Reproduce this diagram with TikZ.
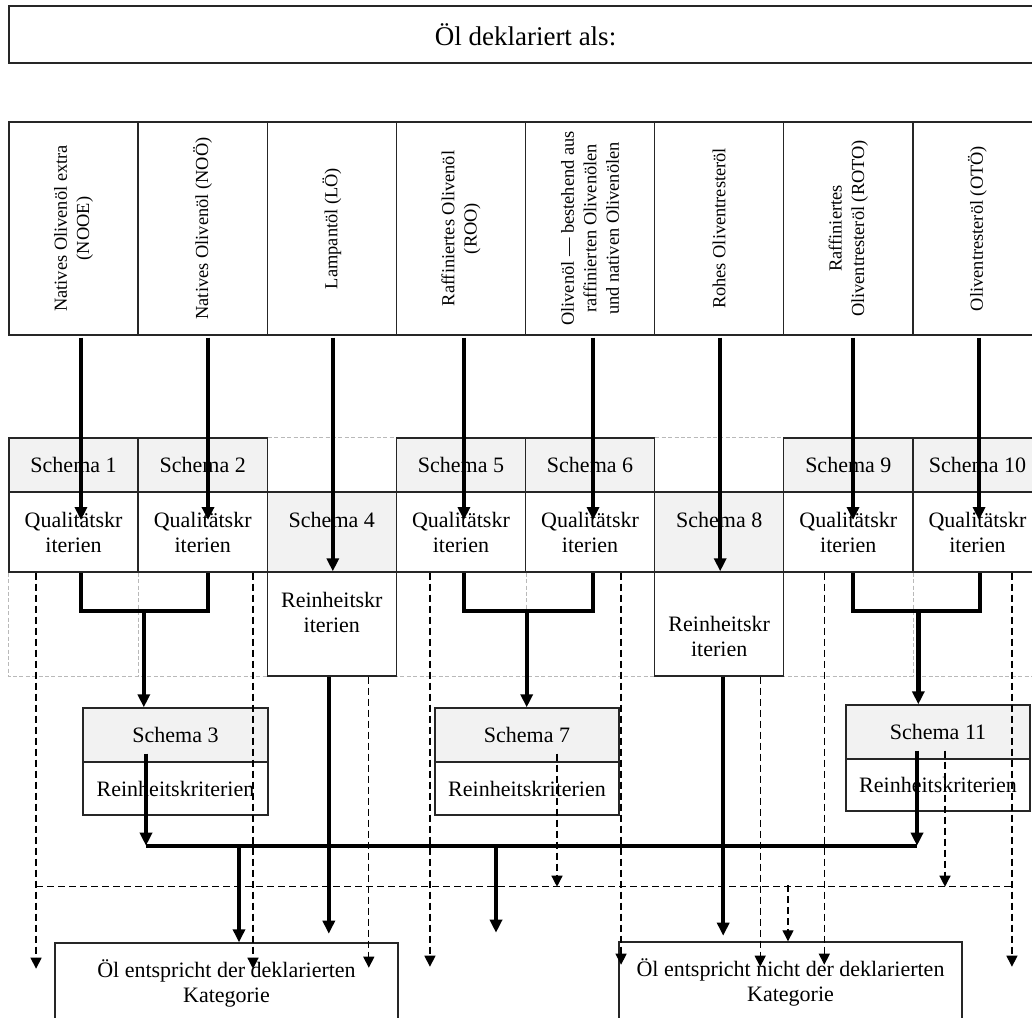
\documentclass[tikz,border=0pt]{standalone}
\usepackage{fontspec}
\setmainfont{Liberation Serif}
\usetikzlibrary{arrows.meta,calc}
\newdimen\pxu \pxu=0.5pt
\definecolor{cellgray}{HTML}{F2F2F2}
\begin{document}
\begin{tikzpicture}[x=0.5pt,y=-0.5pt,
  font=\fontsize{11}{12.5}\selectfont,
  box/.style={draw=black!85,line width=0.7pt,fill=white,inner sep=0pt,align=center},
  gbox/.style={box,fill=cellgray},
  wd/.style={minimum width=#1\pxu},
  ht/.style={minimum height=#1\pxu},
  vtext/.style={rotate=90,align=center,inner sep=0pt,font=\fontsize{9.2}{11.2}\selectfont},
  lbl/.style={align=center,inner sep=0pt},
  thk/.style={line width=2.2pt},
  thka/.style={thk,-{Triangle[width=6pt,length=6.5pt]}},
  dsh/.style={line width=0.65pt,dash pattern=on 3.5pt off 2pt},
  dsha/.style={dsh,-{Triangle[width=5.5pt,length=5.5pt]}},
  ghost/.style={draw=gray!55,line width=0.5pt,dash pattern=on 2pt off 1.2pt}]

\useasboundingbox[fill=white] (0,0) rectangle (1032,1017);

% title bar
\node[box,wd=1033,ht=57,font=\fontsize{13.5}{15}\selectfont] (hdr) at (525.5,34.5) {Öl deklariert als:};

% declared categories
\node[box,wd=129.125,ht=213] (c1) at (73.56,228.5) {};
\node[box,wd=129.125,ht=213] (c2) at (202.69,228.5) {};
\node[box,wd=129.125,ht=213] (c3) at (331.81,228.5) {};
\node[box,wd=129.125,ht=213] (c4) at (460.94,228.5) {};
\node[box,wd=129.125,ht=213] (c5) at (590.06,228.5) {};
\node[box,wd=129.125,ht=213] (c6) at (719.19,228.5) {};
\node[box,wd=129.125,ht=213] (c7) at (848.31,228.5) {};
\node[box,wd=129.125,ht=213] (c8) at (977.44,228.5) {};
\node[vtext] (t1) at (c1) {Natives Olivenöl extra\\(NOOE)};
\node[vtext] (t2) at (c2) {Natives Olivenöl (NOÖ)};
\node[vtext] (t3) at (c3) {Lampantöl (LÖ)};
\node[vtext] (t4) at (c4) {Raffiniertes Olivenöl\\(ROO)};
\node[vtext] (t5) at (c5) {Olivenöl — bestehend aus\\raffinierten Olivenölen\\und nativen Olivenölen};
\node[vtext] (t6) at (c6) {Rohes Oliventresteröl};
\node[vtext] (t7) at (c7) {Raffiniertes\\Oliventresteröl (ROTO)};
\node[vtext] (t8) at (c8) {Oliventresteröl (OTÖ)};

% scheme grid: header row
\node[gbox,wd=129.125,ht=54] (h1) at (73.56,465) {Schema 1};
\node[gbox,wd=129.125,ht=54] (h2) at (202.69,465) {Schema 2};
\node[gbox,wd=129.125,ht=54] (h5) at (460.94,465) {Schema 5};
\node[gbox,wd=129.125,ht=54] (h6) at (590.06,465) {Schema 6};
\node[gbox,wd=129.125,ht=54] (h9) at (848.31,465) {Schema 9};
\node[gbox,wd=129.125,ht=54] (h10) at (977.44,465) {Schema 10};

% scheme grid: quality row
\node[box,wd=129.125,ht=80] (q1) at (73.56,532) {Qualitätskr\\iterien};
\node[box,wd=129.125,ht=80] (q2) at (202.69,532) {Qualitätskr\\iterien};
\node[gbox,wd=129.125,ht=80] (s4) at (331.81,532) {Schema 4\\\phantom{iterien}};
\node[box,wd=129.125,ht=80] (q5) at (460.94,532) {Qualitätskr\\iterien};
\node[box,wd=129.125,ht=80] (q6) at (590.06,532) {Qualitätskr\\iterien};
\node[gbox,wd=129.125,ht=80] (s8) at (719.19,532) {Schema 8\\\phantom{iterien}};
\node[box,wd=129.125,ht=80] (q9) at (848.31,532) {Qualitätskr\\iterien};
\node[box,wd=129.125,ht=80] (q10) at (977.44,532) {Qualitätskr\\iterien};

% empty grid cells
\draw[ghost] (h2.north east) -- (h5.north west);
\draw[ghost] (h6.north east) -- (h9.north west);
\draw[ghost] (q1.south west) -- ++(0,104) -- ($(q2.south east)+(0,104)$);
\draw[ghost] (q1.south east) -- ++(0,104);
\draw[ghost] (q5.south west) -- ++(0,104) -- ($(q6.south east)+(0,104)$);
\draw[ghost] (q5.south east) -- ++(0,104);
\draw[ghost] (q9.south west) -- ++(0,104) -- ($(q10.south east)+(0,104)$);
\draw[ghost] (q9.south east) -- ++(0,104);
\draw[ghost] (q10.south east) -- ++(0,104);

% scheme grid: purity row
\node[box,wd=129.125,ht=104] (r4) at (331.81,624) {};
\node[lbl] (r4t) at ($(r4)+(0,-12)$) {Reinheitskr\\iterien};
\node[box,wd=129.125,ht=104] (r8) at (719.19,624) {};
\node[lbl] (r8t) at ($(r8)+(0,12)$) {Reinheitskr\\iterien};

% follow-up schemes
\node[gbox,wd=185,ht=54] (s3h) at (175.5,735) {Schema 3};
\node[box,wd=185,ht=53] (s3r) at (175.5,788.5) {Reinheitskriterien};
\node[gbox,wd=184,ht=54] (s7h) at (527,735) {Schema 7};
\node[box,wd=184,ht=53] (s7r) at (527,788.5) {Reinheitskriterien};
\node[gbox,wd=184,ht=54] (s11h) at (938,732) {Schema 11};
\node[box,wd=184,ht=52] (s11r) at (938,785) {Reinheitskriterien};

% results
\node[box,wd=343,ht=80] (ok) at (226.5,983) {Öl entspricht der deklarierten\\Kategorie};
\node[box,wd=343,ht=80] (nok) at (790.5,982) {Öl entspricht nicht der deklarierten\\Kategorie};

% category to scheme
\draw[thka] ($(c1.south)+(7.4,2)$) -- ($(q1.center)+(7.4,-12)$);
\draw[thka] ($(c2.south)+(5.3,2)$) -- ($(q2.center)+(5.3,-12)$);
\draw[thka] ($(c3.south)+(1,2)$) -- ($(r4.north)+(1,0)$);
\draw[thka] ($(c4.south)+(3,2)$) -- ($(q5.center)+(3,-12)$);
\draw[thka] ($(c5.south)+(3,2)$) -- ($(q6.center)+(3,-12)$);
\draw[thka] ($(c6.south)+(1,2)$) -- ($(r8.north)+(1,0)$);
\draw[thka] ($(c7.south)+(4.7,2)$) -- ($(q9.center)+(4.7,-12)$);
\draw[thka] ($(c8.south)+(1.6,2)$) -- ($(q10.center)+(1.6,-12)$);

% quality pairs joined and led to purity schemes
\draw[thk] ($(q1.south)+(7.4,0)$) -- ++(0,38) -| ($(q2.south)+(5.3,0)$);
\draw[thk] ($(q5.south)+(3,0)$) -- ++(0,38) -| ($(q6.south)+(3,0)$);
\draw[thk] ($(q9.south)+(4.7,0)$) -- ++(0,38) -| ($(q10.south)+(2.6,0)$);
\coordinate (m12) at ($(q1.south east)+(5,38)$);
\coordinate (m56) at ($(q5.south east)+(0.5,38)$);
\coordinate (m910) at ($(q9.south east)+(4.75,38)$);
\draw[thka] (m12) -- (m12 |- s3h.north);
\draw[thka] (m56) -- (m56 |- s7h.north);
\draw[thka] (m910) -- (m910 |- s11h.north);

% collecting line to the positive result
\coordinate (busL) at ($(s3r.south)+(-29.5,30)$);
\coordinate (x11) at ($(s11h.south)+(-21,-9)$);
\coordinate (busR) at (x11 |- busL);
\draw[thka] ($(s3h.south)+(-29.5,-9)$) -- (busL);
\draw[thka] (x11) -- (busR);
\draw[thk] (busL) -- (busR);
\coordinate (b1) at ($(busL)+(93,2)$);
\coordinate (b2) at ($(busL)+(350,2)$);
\coordinate (b2end) at ($(b2)+(0,85)$);
\draw[thka] (b1) -- (b1 |- ok.north);
\draw[thka] (b2) -- (b2end);

% purity results of schemes 4 and 8
\draw[thka] ($(r4.south)+(-3,0)$) -- ++(0,257);
\draw[thka] ($(r8.south)+(4,0)$) -- ++(0,259);

% failure paths
\draw[dsha] ($(q1.south)+(-37.5,0)$) -- ++(0,396);
\draw[dsha] ($(q2.south)+(50.3,0)$) -- ++(0,396);
\draw[dsha] ($(r4.south)+(37,0)$) -- ++(0,291);
\draw[dsha] ($(q5.south)+(-31,0)$) -- ++(0,394);
\draw[dsha] ($(q6.south)+(31,0)$) -- ++(0,392);
\draw[dsha] ($(r8.south)+(41,0)$) -- ++(0,290);
\draw[dsha] ($(q9.south)+(-24,0)$) -- ++(0,392);
\draw[dsha] ($(q10.south)+(34.5,0)$) -- ++(0,394);
\coordinate (dl) at ($(q1.south)+(-37.5,314)$);
\coordinate (dr) at ($(q10.south)+(34.5,314)$);
\draw[dsh] (dl) -- (dr);
\coordinate (f7) at ($(s7h.south)+(30,-9)$);
\coordinate (f11) at ($(s11h.south)+(7,-9)$);
\draw[dsha] (f7) -- (f7 |- dl);
\draw[dsha] (f11) -- (f11 |- dl);
\coordinate (dn) at ($(nok.north)+(-2.5,-56)$);
\draw[dsha] (dn) -- (dn |- nok.north);
\end{tikzpicture}
\end{document}
